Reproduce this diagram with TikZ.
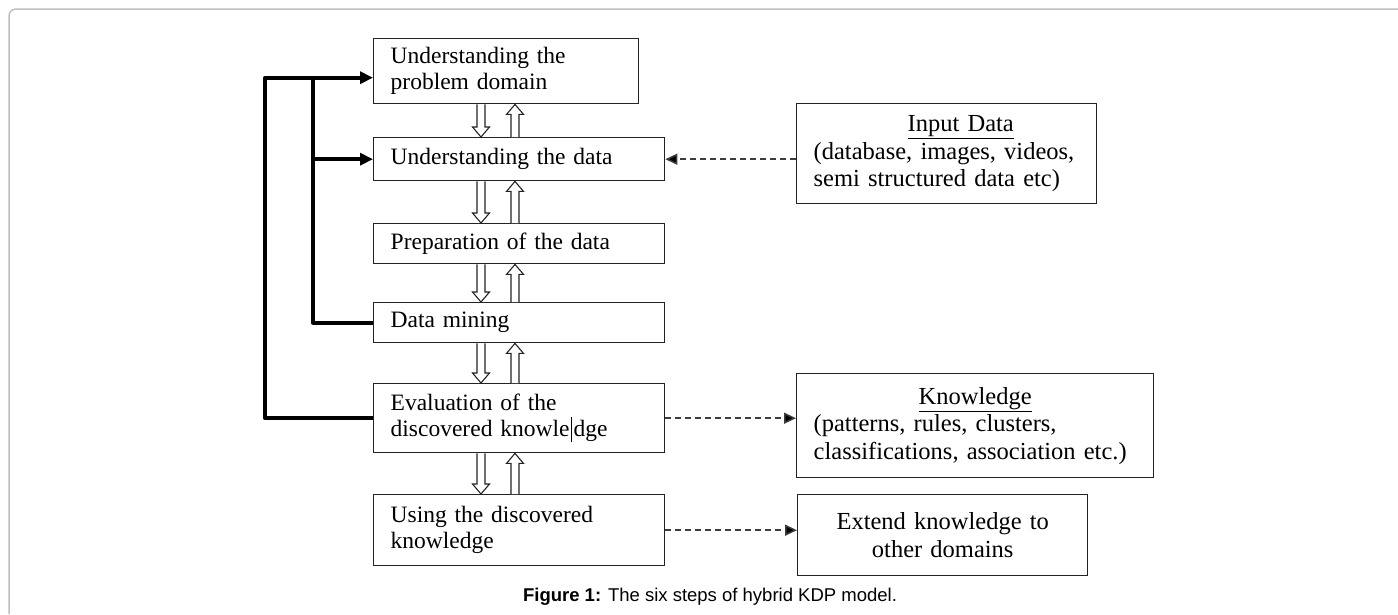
\documentclass[tikz,border=0pt]{standalone}
\usepackage{fontspec}
\setmainfont{Liberation Serif}
\newfontfamily\capfont{Liberation Sans}
\usetikzlibrary{calc,arrows.meta}
\definecolor{framegray}{RGB}{190,190,190}
\definecolor{boxline}{RGB}{35,35,35}
\definecolor{dashcol}{RGB}{60,60,60}
\newcommand\hdown[3]{%
  \draw[hollow] let \p1=(#1.south), \p2=(#2.north) in
    (#3pt-4pt,\y1) -- (#3pt-4pt,\y2+10pt) -- (#3pt-8.5pt,\y2+10pt) -- (#3pt,\y2)
    -- (#3pt+8.5pt,\y2+10pt) -- (#3pt+4pt,\y2+10pt) -- (#3pt+4pt,\y1);}
\newcommand\hup[3]{%
  \draw[hollow] let \p1=(#1.south), \p2=(#2.north) in
    (#3pt-4pt,\y2) -- (#3pt-4pt,\y1-10pt) -- (#3pt-8.5pt,\y1-10pt) -- (#3pt,\y1)
    -- (#3pt+8.5pt,\y1-10pt) -- (#3pt+4pt,\y1-10pt) -- (#3pt+4pt,\y2);}
\begin{document}
\begin{tikzpicture}[x=1pt,y=-1pt,
  stepbox/.style={draw=boxline, line width=1.4pt, anchor=north west, align=left,
    inner xsep=17pt, inner ysep=0pt, font=\fontsize{23.5}{26}\selectfont},
  sidebox/.style={stepbox, font=\fontsize{24.5}{27.5}\selectfont},
  hollow/.style={draw=boxline, fill=white, line width=1.1pt, line join=miter},
  fb/.style={line width=4pt, line join=round},
  fbarrow/.style={fb, -{Triangle[length=13pt,width=12pt]}},
  dashline/.style={draw=dashcol, line width=1.5pt, dash pattern=on 6pt off 4pt,
    -{Triangle[length=12pt,width=11pt,fill=black]}}
]
\useasboundingbox (0,0) rectangle (1398,614);
\draw[framegray, line width=1.5pt, rounded corners=7pt] (9,614) -- (9,9) -- (1398,9);

% main steps
\node[stepbox, text width=231pt, minimum height=65pt] (b1) at (373,38)
  {Understanding the\\problem domain};
\node[stepbox, text width=257pt, minimum height=43pt] (b2) at (373,137)
  {Understanding the data};
\node[stepbox, text width=257pt, minimum height=40pt] (b3) at (373,223)
  {Preparation of the data};
\node[stepbox, text width=257pt, minimum height=40pt] (b4) at (373,302)
  {Data mining};
\node[stepbox, text width=257pt, minimum height=69pt] (b5) at (373,383)
  {Evaluation of the\\discovered knowle\hspace{1.5pt}\rule[-0.22em]{1.1pt}{1.05em}\hspace{1.5pt}dge};
\node[stepbox, text width=257pt, minimum height=71pt] (b6) at (373,494)
  {Using the discovered\\knowledge};

% side boxes
\node[sidebox, text width=266pt, minimum height=100pt] (inp) at (796,103)
  {\hspace*{94pt}\underline{Input Data}\\(database, images, videos,\\semi structured data etc)};
\node[sidebox, text width=323pt, minimum height=104pt] (kn) at (796,373)
  {\makebox[323pt]{\underline{Knowledge}}\\(patterns, rules, clusters,\\classifications, association etc.)};
\node[sidebox, align=center, text width=256pt, minimum height=81pt] (ext) at (797,494)
  {Extend knowledge to\\other domains};

% hollow arrows
\hdown{b1}{b2}{481} \hup{b1}{b2}{515}
\hdown{b2}{b3}{481} \hup{b2}{b3}{515}
\hdown{b3}{b4}{481} \hup{b3}{b4}{515}
\hdown{b4}{b5}{481} \hup{b4}{b5}{515}
\hdown{b5}{b6}{481} \hup{b5}{b6}{515}

% feedback lines
\coordinate (a1) at ($(b1.west)+(0,6.5)$);
\coordinate (lo) at (265,0);
\coordinate (li) at (313,0);
\draw[fbarrow] (b5.west) -| (lo |- a1) -- (a1);
\draw[fb] (b4.west) -| (li |- a1);
\draw[fbarrow] (li |- b2.west) -- (b2.west);

% dashed arrows
\draw[dashline] (inp.west |- b2.east) -- (b2.east);
\draw[dashline] (b5.east) -- (kn.west |- b5.east);
\draw[dashline] (b6.east) -- (ext.west |- b6.east);

% caption
\node[font=\capfont\fontsize{18.5}{20}\selectfont] (cap) at (710,597)
  {\textbf{Figure 1:} The six steps of hybrid KDP model.};
\end{tikzpicture}
\end{document}
